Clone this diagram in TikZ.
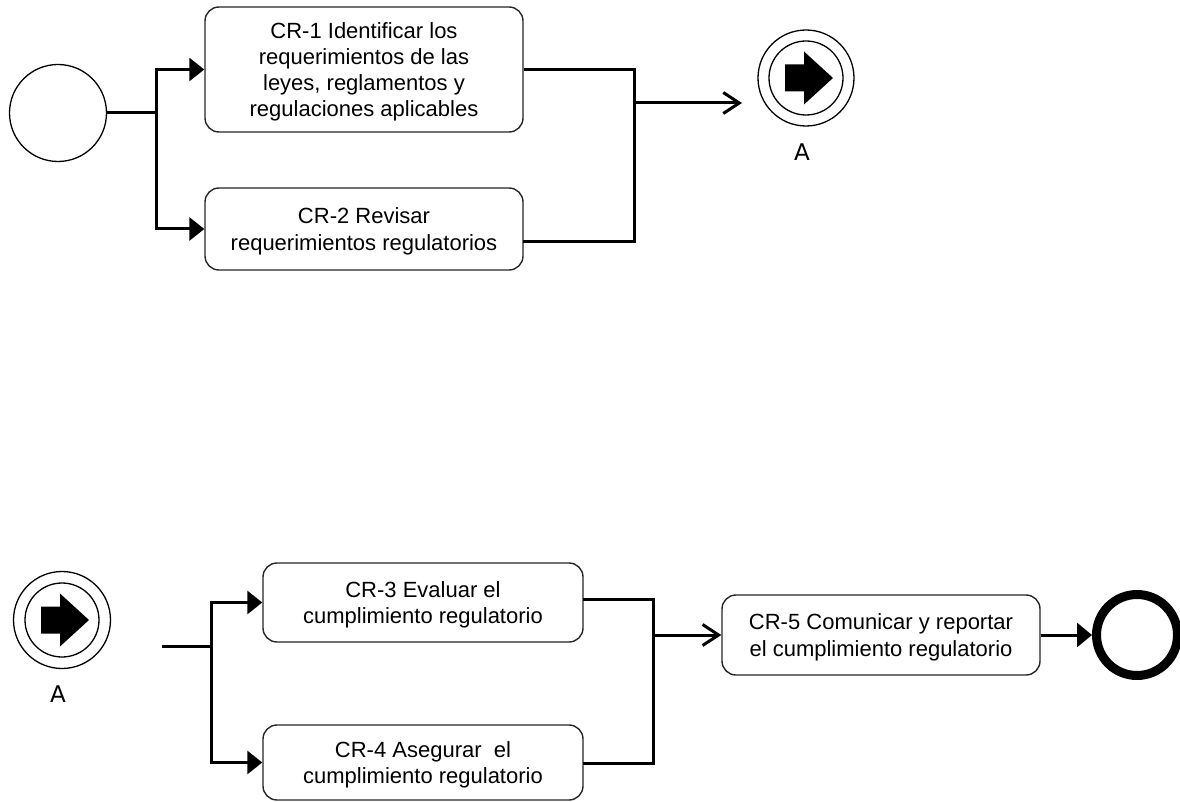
\documentclass[tikz,border=0pt]{standalone}
\usepackage{fontspec}
\setmainfont{Liberation Sans}
\newfontfamily\labelfont{DejaVu Sans}
\usetikzlibrary{arrows.meta}

\tikzset{
  task/.style={draw=black!85, line width=1.4pt, rounded corners=14pt, fill=white,
    align=center, inner sep=0pt, text depth=0pt,
    font=\fontsize{22}{26.3}\selectfont},
  event/.style={circle, draw=black, line width=1.3pt, inner sep=0pt, fill=white},
  endevent/.style={circle, draw=black, line width=9pt, inner sep=0pt, fill=white, minimum size=81pt},
  flow/.style={line width=3pt, line cap=butt},
  solidtip/.style={-{Triangle[length=15pt,width=23pt]}},
  opentip/.style={-{Straight Barb[length=16pt,width=21pt,line width=3pt]}},
  evlabel/.style={font=\labelfont\fontsize{23}{26}\selectfont, inner sep=0pt},
  % arrow glyph of a link event, drawn around its centre
  linkglyph/.pic={\fill (-21,-13.5) -- (-2,-13.5) -- (-2,-26.5) -- (27,0) -- (-2,26.5) -- (-2,13.5) -- (-21,13.5) -- cycle;}
}

\begin{document}
\begin{tikzpicture}[x=1pt, y=-1pt]
\useasboundingbox (0,0) rectangle (1180,802);

% ---------- upper process ----------
\node[event, minimum size=97pt] (start) at (58,113) {};

\node[task, minimum width=318pt, minimum height=125pt] (cr1) at (364,69.5)
  {CR-1 Identificar los\\requerimientos de las\\leyes, reglamentos y\\regulaciones aplicables};
\node[task, minimum width=318pt, minimum height=82pt] (cr2) at (364,229)
  {CR-2 Revisar\\requerimientos regulatorios};

\node[event, minimum size=96pt] (linkout) at (806,78) {};
\draw[line width=1.3pt] (linkout.center) circle[radius=37pt];
\pic[yscale=-1] at (linkout.center) {linkglyph};
\node[evlabel] (linkoutlbl) at (802,152) {A};

\coordinate (fork1) at (156,113);
\coordinate (join1) at (634,103);
\coordinate (cr2out) at (523,242);
\coordinate (toA) at (742,103);

\draw[flow] (start.east) -- (fork1);
\draw[flow, solidtip] (fork1) |- (cr1.west);
\draw[flow, solidtip] (fork1) |- (cr2.west);
\draw[flow] (cr1.east) -| (join1);
\draw[flow] (cr2out) -| (join1);
\draw[flow, opentip] (join1) -- (toA);

% ---------- lower process ----------
\node[event, minimum size=97pt] (linkin) at (62,620) {};
\draw[line width=1.3pt] (linkin.center) circle[radius=37pt];
\pic[yscale=-1] at (linkin.center) {linkglyph};
\node[evlabel] (linkinlbl) at (58,694) {A};

\node[task, minimum width=320pt, minimum height=79pt] (cr3) at (423,602.5)
  {CR-3 Evaluar el\\cumplimiento regulatorio};
\node[task, minimum width=320pt, minimum height=75pt] (cr4) at (423,762.5)
  {CR-4 Asegurar~ el\\cumplimiento regulatorio};
\node[task, minimum width=318pt, minimum height=80pt] (cr5) at (881,635)
  {CR-5 Comunicar y reportar\\el cumplimiento regulatorio};

\node[endevent] (finish) at (1137,635) {};

\coordinate (fromA) at (162,646);
\coordinate (fork2) at (211,646);
\coordinate (cr3out) at (583,599);
\coordinate (cr4out) at (583,763);
\coordinate (join2) at (653,635);

\draw[flow] (fromA) -- (fork2);
\draw[flow, solidtip] (fork2) |- (cr3.west);
\draw[flow, solidtip] (fork2) |- (cr4.west);
\draw[flow] (cr3out) -| (join2);
\draw[flow] (cr4out) -| (join2);
\draw[flow, opentip] (join2) -- (cr5.west);
\draw[flow, -{Triangle[length=15pt,width=24pt]}] (cr5.east) -- (finish.west);
\end{tikzpicture}
\end{document}
